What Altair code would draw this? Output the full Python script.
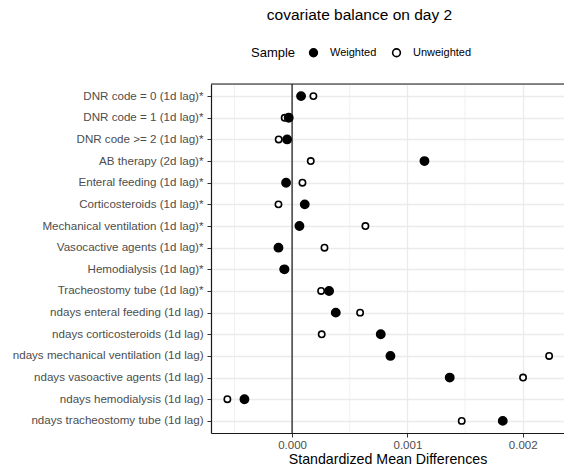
import altair as alt
import pandas as pd

covariates = [
    "DNR code = 0 (1d lag)*",
    "DNR code = 1 (1d lag)*",
    "DNR code >= 2 (1d lag)*",
    "AB therapy (2d lag)*",
    "Enteral feeding (1d lag)*",
    "Corticosteroids (1d lag)*",
    "Mechanical ventilation (1d lag)*",
    "Vasocactive agents (1d lag)*",
    "Hemodialysis (1d lag)*",
    "Tracheostomy tube (1d lag)*",
    "ndays enteral feeding (1d lag)",
    "ndays corticosteroids (1d lag)",
    "ndays mechanical ventilation (1d lag)",
    "ndays vasoactive agents (1d lag)",
    "ndays hemodialysis (1d lag)",
    "ndays tracheostomy tube (1d lag)",
]
weighted = [0.000078, -0.000029, -0.000043, 0.001148, -0.000052, 0.000110, 0.000064, -0.000118,
            -0.000066, 0.000321, 0.000379, 0.000769, 0.000853, 0.001367, -0.000413, 0.001827]
unweighted = [0.000185, -0.000064, -0.000116, 0.000162, 0.000090, -0.000118, 0.000636, 0.000281,
              -0.000075, 0.000252, 0.000590, 0.000257, 0.002229, 0.002003, -0.000561, 0.001471]
samples = ["Weighted", "Unweighted"]
x_ticks = [0.0, 0.001, 0.002]
minor_ticks = [-0.0005, 0.0005, 0.0015]

rows = []
for c, u in zip(covariates, unweighted):
    rows.append({"covariate": c, "smd": u, "Sample": "Unweighted"})
for c, w in zip(covariates, weighted):
    rows.append({"covariate": c, "smd": w, "Sample": "Weighted"})
df = pd.DataFrame(rows)

FONT = "Liberation Sans"
W, H = 353, 349
xdom = [-0.000703, 0.002358]
xscale = alt.Scale(domain=xdom, nice=False, zero=False)

xaxis = alt.Axis(
    values=x_ticks, format=".3f", title="Standardized Mean Differences",
    grid=True, gridColor="#EBEBEB", gridWidth=1.3,
    domainColor="#1a1a1a", domainWidth=1.2,
    tickColor="#333333", tickSize=4, labelColor="#4D4D4D",
    labelFontSize=11.5, labelFont=FONT, labelPadding=2,
    titleFont=FONT, titleFontSize=14.2, titleFontWeight="normal",
    titleColor="black", titlePadding=2,
)

minor = alt.Chart(pd.DataFrame({"v": minor_ticks})).mark_rule(
    color="#EBEBEB", strokeWidth=0.7
).encode(x=alt.X("v:Q", scale=xscale, axis=xaxis))

top_border = alt.Chart(alt.Data(values=[{}])).mark_rule(
    color="#1a1a1a", strokeWidth=1.2
).encode(x=alt.value(0), x2=alt.value(W), y=alt.value(0))

zero_line = alt.Chart(pd.DataFrame({"v": [0.0]})).mark_rule(
    color="black", strokeWidth=1.1
).encode(x=alt.X("v:Q", scale=xscale, axis=xaxis))

points = alt.Chart(df).mark_point(
    filled=False, shape="circle", stroke="black", strokeWidth=1.6, opacity=1
).encode(
    x=alt.X("smd:Q", scale=xscale, axis=xaxis),
    y=alt.Y(
        "covariate:N",
        sort=covariates,
        scale=alt.Scale(type="point", padding=0.56),
        axis=alt.Axis(
            title=None, grid=True, gridColor="#EBEBEB", gridWidth=1.3,
            domainColor="#1a1a1a", domainWidth=1.2,
            tickColor="#333333", tickSize=4, labelColor="#4D4D4D",
            labelFontSize=11.6, labelFont=FONT, labelPadding=4, labelLimit=0,
        ),
    ),
    fill=alt.Fill(
        "Sample:N",
        scale=alt.Scale(domain=samples, range=["black", "white"]),
        legend=alt.Legend(
            title="Sample", orient="none", direction="horizontal",
            legendX=40, legendY=-37, titleOrient="left",
            titleFont=FONT, titleFontSize=13, titleFontWeight="normal",
            titleColor="black", titlePadding=12,
            labelFont=FONT, labelFontSize=11, labelColor="black",
            labelOffset=11, columnPadding=12,
            symbolType="circle", symbolSize=60, symbolStrokeColor="black",
            symbolStrokeWidth=1.6,
        ),
    ),
    size=alt.condition(alt.datum.Sample == "Weighted", alt.value(68), alt.value(40)),
)

chart = alt.layer(minor, zero_line, points, top_border).properties(
    width=W,
    height=H,
    autosize=alt.AutoSizeParams(type="none"),
    padding={"left": 211, "top": 84, "right": 0, "bottom": 41},
    title=alt.Title(
        "covariate balance on day 2", anchor="middle", dx=-28, offset=24,
        font=FONT, fontSize=15.5, fontWeight="normal", color="black",
    ),
).configure_view(stroke=None).configure(background="white")

chart.save("out.html", embed_options={"renderer": "svg", "actions": False})
